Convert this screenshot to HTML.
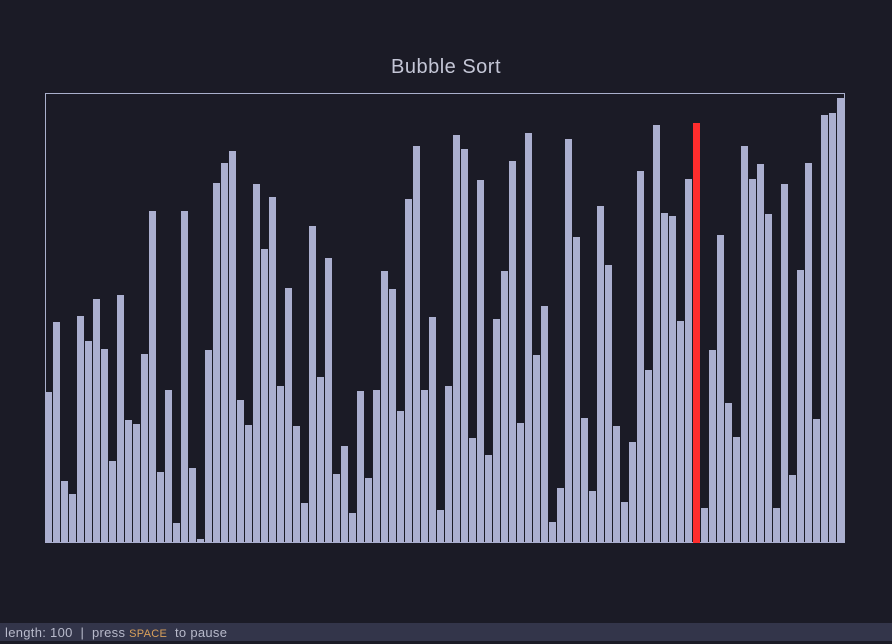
<!DOCTYPE html>
<html><head><meta charset="utf-8"><style>
html,body{margin:0;padding:0;background:#1b1b26;width:892px;height:641px;overflow:hidden;font-family:"Liberation Sans",sans-serif}
#title{position:absolute;left:0;width:892px;top:56px;text-align:center;color:#c4c6d6;font-size:20px;letter-spacing:0.5px}
#status{position:absolute;left:0;top:623px;width:892px;height:18px;background:#33354a;color:#b8bacb;font-size:13px;line-height:19px;padding-left:5px;box-sizing:border-box;white-space:pre;letter-spacing:0.3px}
#status .k{color:#d9a05b;font-size:11px}
svg{position:absolute;left:0;top:0}
</style></head><body>
<div id="title">Bubble Sort</div>
<svg id="chart" width="892" height="641">
<rect x="45.5" y="93.5" width="799" height="449" fill="none" stroke="#aab0cc" stroke-width="1"/>
</svg>
<div id="status">length: 100  |  press <span class="k">SPACE</span>  to pause</div>
<script>
const values=[150,220,61,48,226,201,243,193,81,247,122,118,188,331,70,152,19,331,74,3,192,359,379,391,142,117,358,293,345,156,254,116,39,316,165,284,68,96,29,151,64,152,271,253,131,343,396,152,225,32,156,407,393,104,362,87,223,271,381,119,409,187,236,20,54,403,305,124,51,336,277,116,40,100,371,172,417,329,326,221,363,419,34,192,307,139,105,396,363,378,328,34,358,67,272,379,123,427,429,444];
const highlighted=[81];
const yMax=450;
const x0=45,plotW=800,yBottom=542,plotH=450;
function xPos(i){return x0+i*plotW/values.length;}
function yPos(v){return yBottom-v/yMax*plotH;}
const svg=document.getElementById('chart');
const NS='http://www.w3.org/2000/svg';
values.forEach((v,i)=>{
  const r=document.createElementNS(NS,'rect');
  r.setAttribute('x',xPos(i));
  r.setAttribute('y',yPos(v));
  r.setAttribute('width',plotW/values.length-1);
  r.setAttribute('height',yBottom-yPos(v)+1);
  r.setAttribute('fill',highlighted.includes(i)?'#ff2d2d':'#abafcf');
  
  
  svg.appendChild(r);
});
</script>
</body></html>
